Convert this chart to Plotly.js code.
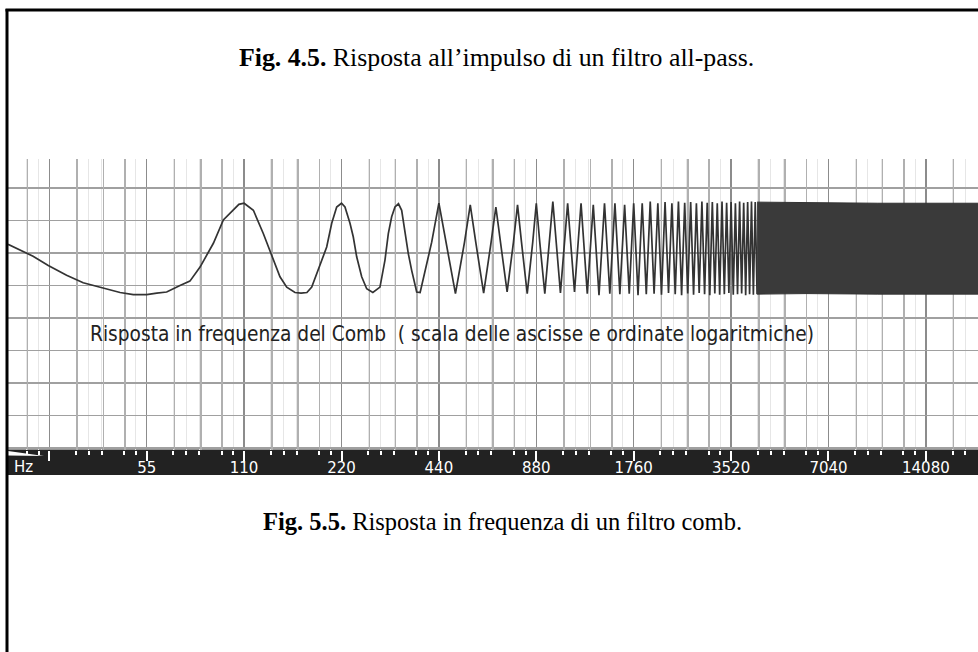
<!DOCTYPE html>
<html>
<head>
<meta charset="utf-8">
<script src="https://cdn.plot.ly/plotly-3.0.1.min.js"></script>
<style>html,body{margin:0;padding:0;background:#fff;}#chart{width:978px;height:652px;}</style>
</head>
<body>
<div id="chart"></div>
<script>
// ---- data (frequency in Hz, level in dB) ----
// detailed low-frequency part (first lobes)
const lowHz = [20.5, 24.5, 27.3, 31.1, 35.0, 39.4, 45.5, 50.0, 55, 59.1, 63.4, 69.7, 74.8, 80.4, 88.4, 94.9, 101.9, 106, 110, 113, 117.5, 126.1, 135.4, 142, 149, 158, 165, 172, 178, 188.8, 198, 205.2, 212.6, 220, 225.5, 233.7, 239.2, 245.1, 254, 263.2, 275, 289.3, 299.8, 307, 314.4, 321.9, 330, 337.6, 345.7, 353.9, 362.5, 375.7, 385];
const lowDb = [-10.4, -12.6, -14.3, -16.1, -17.5, -18.3, -19.3, -19.7, -19.7, -19.4, -19.2, -18.0, -17.2, -14.6, -10.2, -5.9, -4.1, -3.0, -2.8, -3.3, -4.1, -8.4, -13.3, -16.4, -18.3, -19.3, -19.4, -19.3, -18.3, -14.0, -10.9, -6.5, -3.5, -2.8, -3.5, -6.5, -9.0, -12.7, -16.4, -18.6, -19.3, -18.3, -13.3, -8.4, -5.3, -3.5, -2.9, -4.1, -8.4, -12.1, -15.2, -19.2, -19.3];
// comb teeth (peaks and dips) up to the dense region
const combHz = [418, 440, 462, 495, 528, 550, 572, 605, 638, 660, 682, 715, 748, 770, 792, 825, 858, 880, 902, 935,
  990, 1045, 1100, 1155, 1210, 1265, 1320, 1375, 1430, 1485, 1540, 1595, 1650, 1705, 1760, 1815,
  1870, 1925, 1980, 2035, 2090, 2145, 2200, 2255, 2310, 2365, 2420, 2475, 2530, 2585, 2640, 2695,
  2750, 2805, 2860, 2915, 2970, 3025, 3080, 3135, 3190, 3245, 3300, 3355, 3410, 3465, 3520, 3575,
  3630, 3685, 3740, 3795, 3850, 3905, 3960, 4015, 4070, 4125, 4180, 4235];
const combDb = [-10, -2.8, -10, -19.5, -10, -3.1, -10, -19.4, -10, -3.5, -10, -19.2, -10, -3.1, -10, -19.5, -10, -2.8, -10, -19.5,
  -2.5, -19.4, -2.8, -19.2, -2.8, -19.5, -3.1, -19.8, -2.8, -19.5, -2.8, -19.6, -3.1, -19.5, -2.8, -19.8,
  -2.8, -19.6, -2.5, -19.5, -2.8, -19.7, -2.6, -19.4, -2.8, -19.6, -2.5, -19.8, -2.7, -19.5, -2.6, -19.7,
  -2.8, -19.4, -2.5, -19.6, -2.7, -19.8, -2.6, -19.5, -2.8, -19.7, -2.5, -19.6, -2.7, -19.4, -2.6, -19.7,
  -2.8, -19.6, -2.5, -19.5, -2.7, -19.8, -2.6, -19.6, -2.5, -19.7, -2.6, -19.6];
// dense (unresolved) region drawn as a filled band
const bandHz = [4235, 6000, 10000, 20400];
const bandTop = [-2.6, -2.7, -2.8, -2.8];
const bandBottom = [-19.6, -19.5, -19.6, -19.6];
// axis labels
const octaveHz = [27.5, 55, 110, 220, 440, 880, 1760, 3520, 7040, 14080];
const octaveLabels = ['', '55', '110', '220', '440', '880', '1760', '3520', '7040', '14080'];

// ---- axis helpers (positions of small ticks / grid lines inside each octave) ----
const tickFrac = [0.275, 0.405, 0.54, 0.77, 0.89];
const gridFrac = [0.285, 0.555, 0.775];
const bases = [13.75].concat(octaveHz);
const minorTicks = [], midGrid = [];
bases.forEach(b => {
  tickFrac.forEach(f => minorTicks.push(b * Math.pow(2, f)));
  gridFrac.forEach(f => midGrid.push(b * Math.pow(2, f)));
});

const lineColor = '#333';
const traces = [
  {x: lowHz.concat(combHz), y: lowDb.concat(combDb), type: 'scatter', mode: 'lines',
   line: {color: lineColor, width: 1.7}, hoverinfo: 'skip'},
  {x: bandHz, y: bandBottom, type: 'scatter', mode: 'lines', line: {color: lineColor, width: 1}, hoverinfo: 'skip'},
  {x: bandHz, y: bandTop, type: 'scatter', mode: 'lines', fill: 'tonexty', fillcolor: '#3a3a3a',
   line: {color: lineColor, width: 1}, hoverinfo: 'skip'},
  {x: [100], y: [-100], xaxis: 'x2', type: 'scatter', mode: 'markers', hoverinfo: 'skip', marker: {opacity: 0}}
];

const W = 978, H = 652, L = 8, T = 159, B = 450;
const px = v => (v - L) / (W - L);
const py = v => (B - v) / (B - T);
const xr = [1.311681, 4.309672];

const layout = {
  width: W, height: H,
  margin: {l: L, r: 0, t: T, b: H - B, pad: 0},
  paper_bgcolor: '#fff', plot_bgcolor: '#fff',
  showlegend: false,
  xaxis: {
    type: 'log', range: xr, fixedrange: true,
    tickmode: 'array', tickvals: octaveHz, ticktext: octaveLabels,
    ticks: 'outside', ticklen: 10, tickwidth: 2, tickcolor: '#fff',
    ticklabelstandoff: -6,
    tickfont: {family: 'DejaVu Sans', size: 15, color: '#fff'},
    showgrid: true, gridcolor: '#8c8c8c', gridwidth: 1.5,
    showline: false, zeroline: false,
    minor: {tickmode: 'array', tickvals: minorTicks, ticks: 'outside', ticklen: 4, tickwidth: 2,
            tickcolor: '#fff', showgrid: true, gridcolor: '#e6e6e6', gridwidth: 1}
  },
  xaxis2: {
    type: 'log', range: xr, overlaying: 'x', fixedrange: true,
    tickmode: 'array', tickvals: midGrid, showticklabels: false, ticks: '',
    showgrid: true, gridcolor: '#b0b0b0', gridwidth: 1.5, showline: false, zeroline: false
  },
  yaxis: {
    range: [-48.4, 5.37], fixedrange: true, tick0: 0, dtick: 6,
    showticklabels: false, ticks: '', showgrid: true, gridcolor: '#a0a0a0', gridwidth: 1.5,
    zeroline: false, showline: false
  },
  shapes: [
    {type: 'rect', xref: 'paper', yref: 'paper', x0: 0, x1: 1, y0: py(475), y1: py(449.5),
     fillcolor: '#222', line: {width: 0}, layer: 'below'},
    {type: 'path', xref: 'paper', yref: 'paper',
     path: `M ${px(8)} ${py(451)} L ${px(44)} ${py(456)} L ${px(8)} ${py(455.5)} Z`,
     fillcolor: '#fff', line: {width: 0}, layer: 'above'},
    {type: 'line', xref: 'paper', yref: 'paper', x0: px(5.5), x1: 1, y0: py(10), y1: py(10),
     line: {color: '#000', width: 3}},
    {type: 'line', xref: 'paper', yref: 'paper', x0: px(7), x1: px(7), y0: py(9), y1: py(652),
     line: {color: '#000', width: 3}}
  ],
  annotations: [
    {text: '<b>Fig. 4.5.</b> Risposta all\u2019impulso di un filtro all-pass.', xref: 'paper', yref: 'paper',
     x: px(496.5), y: py(58), xanchor: 'center', yanchor: 'middle', showarrow: false,
     font: {family: 'Liberation Serif', size: 25.8, color: '#000'}},
    {text: '<b>Fig. 5.5.</b> Risposta in frequenza di un filtro comb.', xref: 'paper', yref: 'paper',
     x: px(502.5), y: py(521), xanchor: 'center', yanchor: 'middle', showarrow: false,
     font: {family: 'Liberation Serif', size: 24.5, color: '#000'}},
    {text: 'Risposta in frequenza del Comb  ( scala delle ascisse e ordinate logaritmiche)',
     xref: 'paper', yref: 'paper', x: px(88), y: py(334), xanchor: 'left', yanchor: 'middle', showarrow: false,
     font: {family: 'DejaVu Sans Condensed', size: 20.7, color: '#222'}},
    {text: 'Hz', xref: 'paper', yref: 'paper', x: px(12), y: py(467), xanchor: 'left', yanchor: 'middle',
     showarrow: false, font: {family: 'DejaVu Sans', size: 15, color: '#fff'}}
  ]
};

Plotly.newPlot('chart', traces, layout, {staticPlot: true, displayModeBar: false});
</script>
</body>
</html>
